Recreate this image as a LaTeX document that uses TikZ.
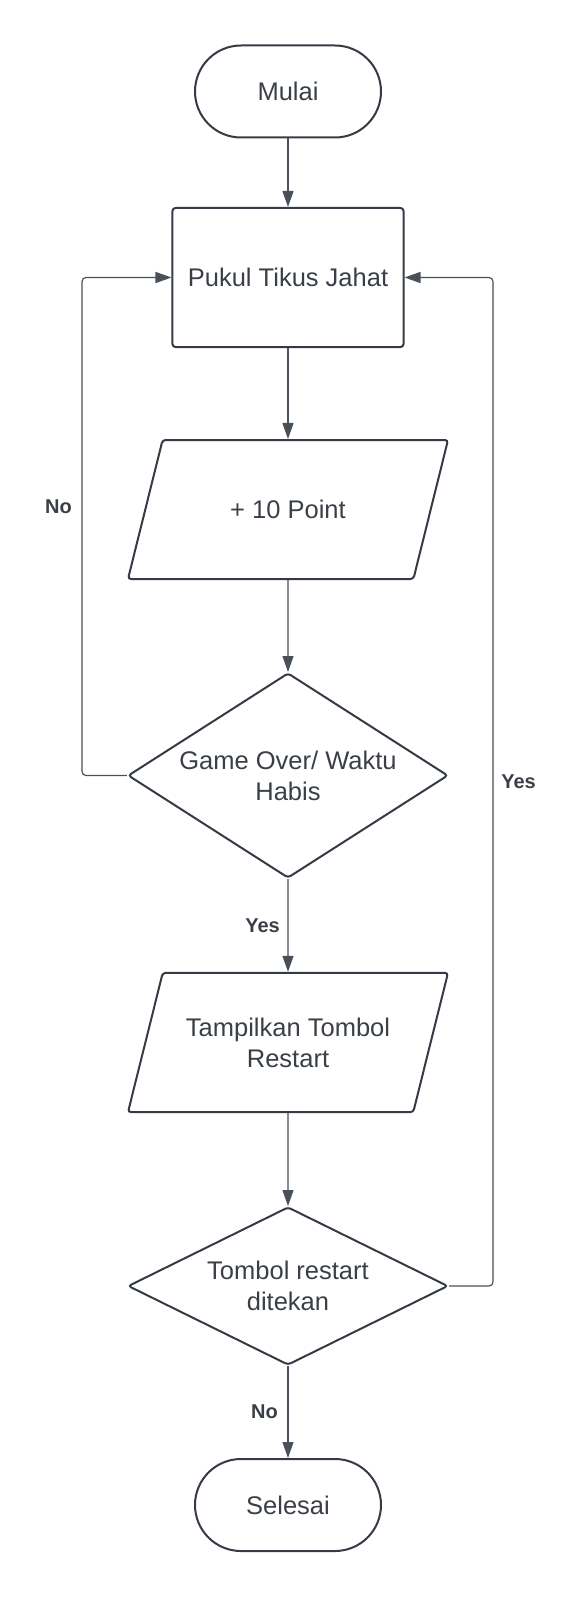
\documentclass[tikz,border=0pt]{standalone}
\usepackage{fontspec}
\newfontfamily\chartfamily{Liberation Sans}
\usepackage{tikz}
\usetikzlibrary{arrows.meta,shapes.geometric,positioning}
\definecolor{flowGray}{HTML}{353B44}
\definecolor{lineGray}{HTML}{4A5059}
\definecolor{textGray}{HTML}{3A3F47}
\tikzset{%
  >={Triangle[width=5.5pt,length=8pt]},
  % Specifications for style of nodes:
     base/.style = {draw=flowGray, line width=1pt, text=textGray,
                    rounded corners=1.5pt, align=center,
                    font={\chartfamily\fontsize{12.75pt}{15.5pt}\selectfont}},
     terminal/.style = {base, rectangle, rounded corners=23pt,
                        minimum width=93pt, minimum height=46pt},
     process/.style = {base, rectangle, minimum width=115.5pt, minimum height=69.5pt},
     inputOutput/.style = {base, trapezium, trapezium left angle=76,
                           trapezium right angle=104, trapezium stretches body=true,
                           inner ysep=30pt, minimum width=160pt, minimum height=69.5pt},
     decision/.style = {base, diamond, inner sep=0pt, minimum width=160pt},
     answer/.style = {text=textGray, font={\chartfamily\bfseries\fontsize{10pt}{12pt}\selectfont}},
     connector/.style = {->, draw=lineGray, line width=0.6pt, rounded corners=2pt},
}

\begin{document}
\begin{tikzpicture}[node distance=120pt]
  \useasboundingbox (-144pt,45.75pt) rectangle (148.5pt,-754.25pt);
  % Specification of nodes (position, etc.)
  \node (start)          [terminal] {Mulai};
  \node (whack)          [process, below of=start, yshift=27pt] {Pukul Tikus Jahat};
  \node (addPoint)       [inputOutput, below of=whack, yshift=4pt] {+ 10 Point};
  \node (gameOver)       [decision, aspect=1.56, minimum height=102.5pt,
                          below of=addPoint, yshift=-13pt]
                         {Game Over/ Waktu\\ Habis};
  \node (showRestart)    [inputOutput, inner ysep=22.4pt, below of=gameOver, yshift=-13.5pt]
                         {Tampilkan Tombol\\ Restart};
  \node (restartPressed) [decision, aspect=2, minimum height=79pt,
                          below of=showRestart, yshift=-1.75pt]
                         {Tombol restart\\ ditekan};
  \node (finish)         [terminal, below of=restartPressed, yshift=10.5pt] {Selesai};

  % Specification of lines between nodes specified above
  \draw[connector] (start) -- (whack);
  \draw[connector] (whack) -- (addPoint);
  \draw[connector] (addPoint) -- (gameOver);
  \draw[connector] (gameOver) -- node[answer, left, xshift=-0.5pt] {Yes} (showRestart);
  \draw[connector] (showRestart) -- (restartPressed);
  \draw[connector] (restartPressed) -- node[answer, left, xshift=-1.5pt] {No} (finish);

  \draw[connector] (gameOver.west) -- ++(-22.5pt,0)
        |- node[answer, left, pos=0.27, xshift=-1.5pt] {No} (whack.west);
  \draw[connector] (restartPressed.east) -- ++(22pt,0)
        |- node[answer, right, pos=0.25, xshift=0.5pt] {Yes} (whack.east);
\end{tikzpicture}
\end{document}
